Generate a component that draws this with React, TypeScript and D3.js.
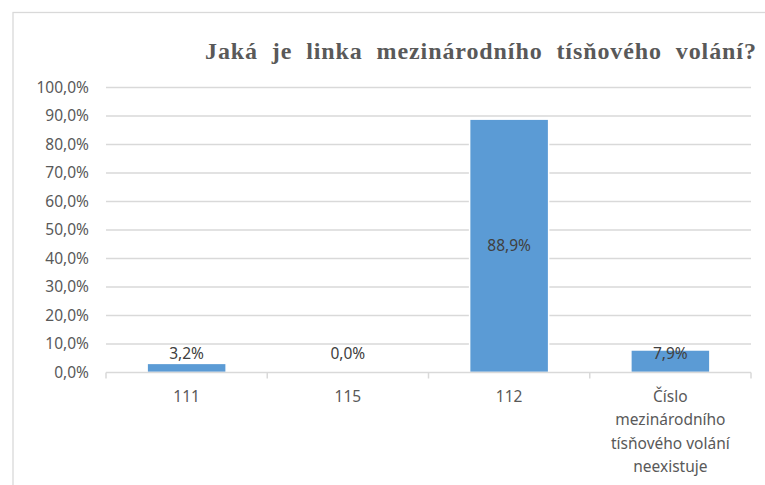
import React from "react";
import * as d3 from "d3";

const categories = ["111", "115", "112", "Číslo mezinárodního tísňového volání neexistuje"];
const categoryLines = [["111"], ["115"], ["112"], ["Číslo", "mezinárodního", "tísňového volání", "neexistuje"]];
const values = [3.2, 0.0, 88.9, 7.9];
const valueLabels = ["3,2%", "0,0%", "88,9%", "7,9%"];
const yTicks = [0, 10, 20, 30, 40, 50, 60, 70, 80, 90, 100];
const yTickLabels = yTicks.map(t => `${t},0%`);
const title = "Jaká je linka mezinárodního tísňového volání?";

const width = 765;
const height = 485;
const margin = { top: 87.5, right: 14, bottom: 112.5, left: 106 };

function App() {
  const innerWidth = width - margin.left - margin.right;
  const innerHeight = height - margin.top - margin.bottom;

  const xScale = d3.scaleBand<string>().domain(categories).range([0, innerWidth]).paddingInner(0.51).paddingOuter(0.255);
  const bandScale = d3.scaleBand<string>().domain(categories).range([0, innerWidth]);
  const yScale = d3.scaleLinear().domain([0, 100]).range([innerHeight, 0]);

  const textColor = "#595959";
  const gridColor = "#d9d9d9";
  const font = "'Noto Sans', sans-serif";
  const fontSize = 15.5;

  return (
    <svg
      width={width}
      height={height}
      style={{ position: "absolute", left: 0, top: 0, background: "#fff" }}
    >
      <rect x={13} y={12.5} width={800} height={600} fill="none" stroke={gridColor} strokeWidth={1.3} />
      <text
        x={205}
        y={59}
        fontFamily="'Liberation Serif', serif"
        fontWeight="bold"
        fontSize={24}
        fill={textColor}
        wordSpacing={7}
        letterSpacing={0.9}
      >
        {title}
      </text>
      <g transform={`translate(${margin.left},${margin.top})`}>
        {yTicks.map((t, i) => (
          <g key={t}>
            {t > 0 && (
              <line x1={0} x2={innerWidth} y1={yScale(t)} y2={yScale(t)} stroke={gridColor} strokeWidth={1.5} />
            )}
            <text
              x={-17}
              y={yScale(t)}
              dy="0.35em"
              textAnchor="end"
              fontFamily={font}
              fontSize={fontSize}
              fill={textColor}
            >
              {yTickLabels[i]}
            </text>
          </g>
        ))}
        {categories.map((c, i) => (
          <rect
            key={c}
            x={xScale(c)}
            y={yScale(values[i])}
            width={xScale.bandwidth()}
            height={innerHeight - yScale(values[i])}
            fill="#5b9bd5"
            stroke="#fff"
            strokeWidth={1.5}
          />
        ))}
        <line x1={0} x2={innerWidth} y1={innerHeight} y2={innerHeight} stroke={gridColor} strokeWidth={1.5} />
        {[...categories.map(c => bandScale(c)!), innerWidth].map((x, i) => (
          <line key={i} x1={x} x2={x} y1={innerHeight} y2={innerHeight + 6} stroke={gridColor} strokeWidth={1.5} />
        ))}
        {categories.map((c, i) => {
          const cx = xScale(c)! + xScale.bandwidth() / 2;
          const inside = values[i] > 50;
          const y = inside ? (yScale(values[i]) + innerHeight) / 2 : yScale(5) + 1;
          return (
            <text
              key={c}
              x={cx}
              y={y}
              dy={inside ? "0.35em" : 0}
              textAnchor="middle"
              fontFamily={font}
              fontSize={fontSize}
              fill="#404040"
            >
              {valueLabels[i]}
            </text>
          );
        })}
        {categories.map((c, i) => (
          <text
            key={c}
            x={bandScale(c)! + bandScale.bandwidth() / 2}
            y={innerHeight + 29}
            textAnchor="middle"
            fontFamily={font}
            fontSize={fontSize}
            fill={textColor}
          >
            {categoryLines[i].map((line, j) => (
              <tspan key={j} x={bandScale(c)! + bandScale.bandwidth() / 2} dy={j === 0 ? 0 : 23.6}>
                {line}
              </tspan>
            ))}
          </text>
        ))}
      </g>
    </svg>
  );
}

export default App;
